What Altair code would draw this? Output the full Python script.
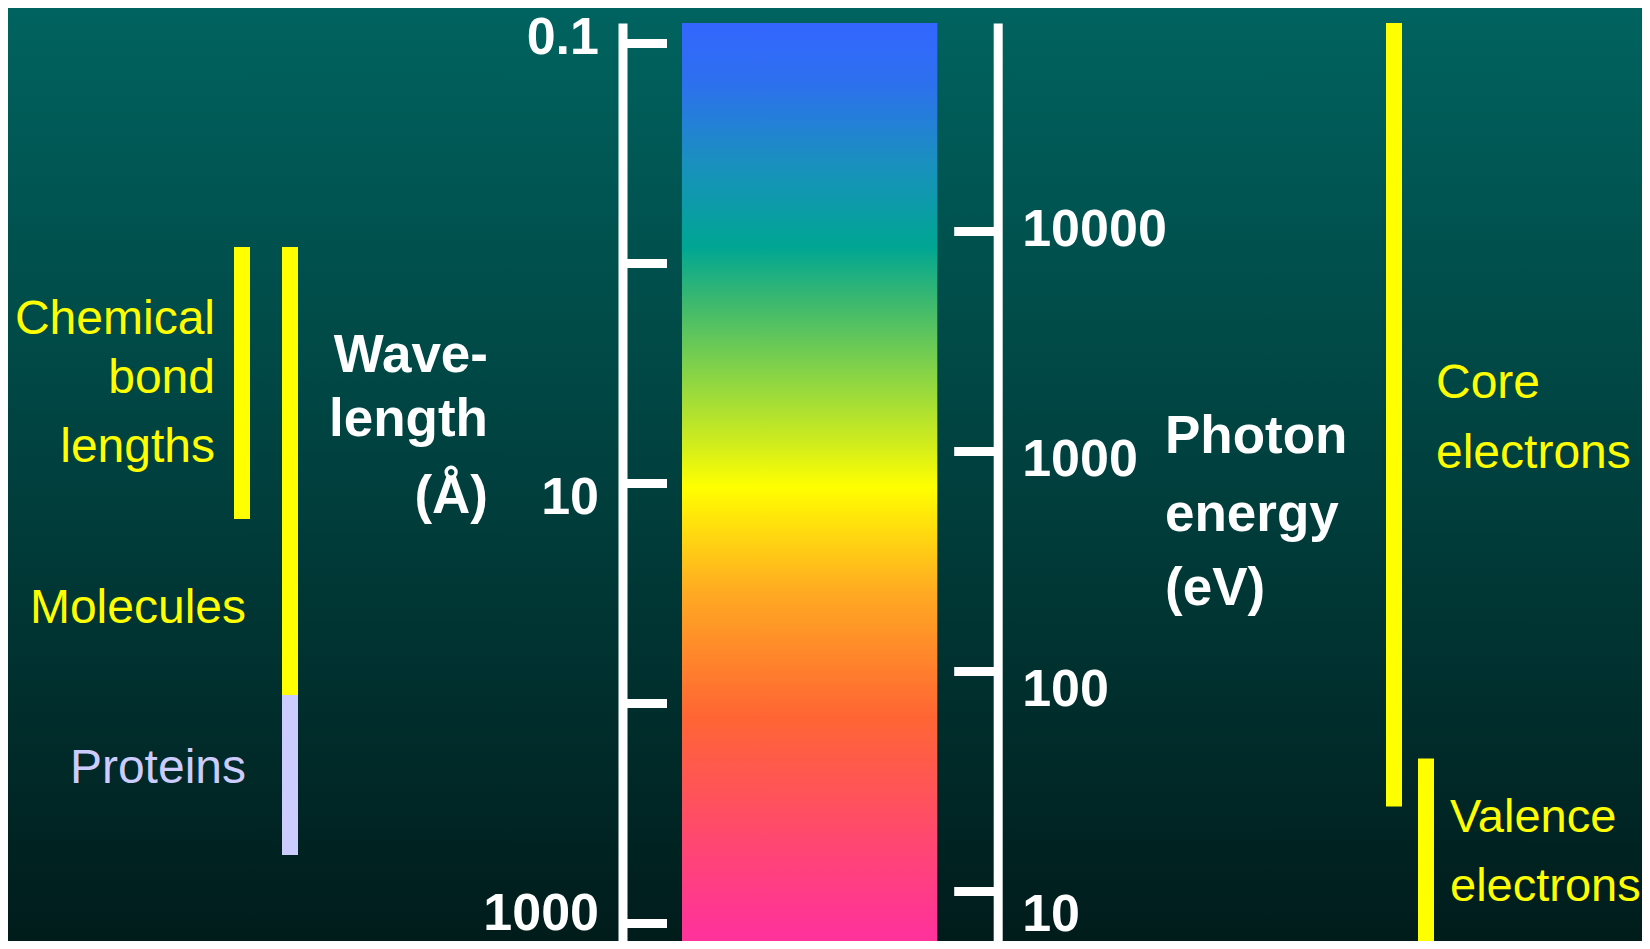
import math
import altair as alt
import pandas as pd

# ---------------- values ----------------
wavelength_ticks = [0.1, 1, 10, 100, 1000]            # Å
wavelength_tick_labels = ["0.1", "", "10", "", "1000"]
energy_ticks = [10000, 1000, 100, 10]                 # eV
energy_tick_labels = ["10000", "1000", "100", "10"]

wavelength_extent = [0.0809, 1201.0]    # Å, top -> bottom of the scale
energy_extent = [88200.0, 5.93]         # eV, top -> bottom of the scale

spectrum_wavelength = [0.081, 1250.0]   # colour bar span (Å)

size_names = ["Chemical bond lengths", "Molecules", "Proteins"]
size_from = [0.843, 0.843, 91.5]        # Å
size_to = [14.5, 91.5, 488.0]           # Å

electron_names = ["Core electrons", "Valence electrons"]
electron_from = [88200.0, 40.0]         # eV
electron_to = [24.2, 5.0]               # eV

# ---------------- layout / style ----------------
W, H, TOP = 1634, 933, 15
FONT = "Liberation Sans"
YELLOW, LAVENDER, WHITE = "#FFFF00", "#CCCCFF", "#FFFFFF"

size_style = {
    "Chemical bond lengths": (226, 242, YELLOW),
    "Molecules": (274, 290, YELLOW),
    "Proteins": (274, 290, LAVENDER),
}
electron_style = {
    "Core electrons": (1378, 1394, YELLOW),
    "Valence electrons": (1410, 1426, YELLOW),
}

wl_scale = alt.Scale(type="log", domain=wavelength_extent, range=[TOP, H], nice=False)
en_scale = alt.Scale(type="log", domain=energy_extent, range=[TOP, H], nice=False)


def label_expr(vals, labs):
    expr = "''"
    for v, l in reversed(list(zip(vals, labs))):
        expr = f"datum.value == {v} ? '{l}' : ({expr})"
    return expr


def offset_cond(vals, offs):
    return {
        "condition": [{"test": f"datum.value == {v}", "value": o} for v, o in zip(vals, offs)],
        "value": 0,
    }


axis_common = dict(
    title=None, grid=False, domain=True, domainColor=WHITE, domainWidth=9,
    domainCap="butt", ticks=True, tickColor=WHITE, tickWidth=9, tickSize=44,
    tickCap="butt", labels=True, labelColor=WHITE, labelFont=FONT,
    labelFontSize=52, labelFontWeight="bold", labelBaseline="middle",
    labelOverlap=False, labelFlush=False, labelLimit=400, zindex=2,
)

wl_axis = alt.Axis(
    orient="right", offset=614.5 - W, values=wavelength_ticks,
    labelExpr=label_expr(wavelength_ticks, wavelength_tick_labels),
    labelAlign="right", labelPadding=-68,
    labelOffset=offset_cond(wavelength_ticks, [-6, 0, 14, 0, -10]),
    **axis_common,
)
en_axis = alt.Axis(
    orient="left", offset=-989.7, values=energy_ticks,
    labelExpr=label_expr(energy_ticks, energy_tick_labels),
    labelAlign="left", labelPadding=-68,
    labelOffset=offset_cond(energy_ticks, [-2, 8, 18, 23]),
    **axis_common,
)

# background gradient
bg = alt.Chart(pd.DataFrame({"k": [0]})).mark_rect(
    color=alt.LinearGradient(
        gradient="linear",
        stops=[alt.GradientStop(offset=0, color="#00635F"),
               alt.GradientStop(offset=0.5, color="#00403E"),
               alt.GradientStop(offset=1, color="#001C1B")],
        x1=0, x2=0, y1=0, y2=1,
    )
).encode(x=alt.value(0), x2=alt.value(W), y=alt.value(0), y2=alt.value(H))

# spectrum colour bar
def ypix(lam):
    a, b = math.log10(wavelength_extent[0]), math.log10(wavelength_extent[1])
    return TOP + (math.log10(lam) - a) / (b - a) * (H - TOP)

bar_top = ypix(spectrum_wavelength[0])
bar_bot = ypix(spectrum_wavelength[1])
stop_ref_y = [23, 83, 160, 247, 300, 367, 440, 487, 592, 715, 785, 855, 931]
stop_colors = ["#3366FF", "#2D70EE", "#1A8FC0", "#00A693", "#3AB870", "#80D14A",
               "#CCEB1F", "#FFFF00", "#FFAA22", "#FF6633", "#FF5555", "#FF4477", "#FF3399"]
stops = [alt.GradientStop(offset=min(1, max(0, (yr - 8 - bar_top) / (bar_bot - bar_top))), color=c)
         for yr, c in zip(stop_ref_y, stop_colors)]

spec_df = pd.DataFrame({"top": [spectrum_wavelength[0]], "bottom": [spectrum_wavelength[1]]})
colorbar = alt.Chart(spec_df).mark_rect(
    color=alt.LinearGradient(gradient="linear", stops=stops, x1=0, x2=0, y1=0, y2=1)
).encode(
    x=alt.value(674), x2=alt.value(929.3),
    y=alt.Y("top:Q", scale=wl_scale, axis=wl_axis), y2="bottom:Q",
)

size_df = pd.DataFrame({"name": size_names, "start": size_from, "end": size_to})
size_bars = []
for name in size_names:
    x0, x1, col = size_style[name]
    size_bars.append(
        alt.Chart(size_df[size_df["name"] == name]).mark_rect(color=col).encode(
            x=alt.value(x0), x2=alt.value(x1),
            y=alt.Y("start:Q", scale=wl_scale, axis=None), y2="end:Q",
        )
    )

el_df = pd.DataFrame({"name": electron_names, "start": electron_from, "end": electron_to})
el_bars = []
for i, name in enumerate(electron_names):
    x0, x1, col = electron_style[name]
    el_bars.append(
        alt.Chart(el_df[el_df["name"] == name]).mark_rect(color=col).encode(
            x=alt.value(x0), x2=alt.value(x1),
            y=alt.Y("start:Q", scale=en_scale, axis=en_axis if i == 0 else None), y2="end:Q",
        )
    )


def text(txt, x, y, align, color, bold, size=None):
    return alt.Chart(pd.DataFrame({"t": [txt]})).mark_text(
        align=align, baseline="alphabetic", font=FONT,
        fontSize=size or (52 if bold else 48), fontWeight="bold" if bold else "normal", color=color,
    ).encode(x=alt.value(x), y=alt.value(y), text="t:N")


texts = [
    text("Chemical", 207, 326, "right", YELLOW, False),
    text("bond", 207, 385, "right", YELLOW, False),
    text("lengths", 207, 454, "right", YELLOW, False),
    text("Molecules", 238, 615, "right", YELLOW, False),
    text("Proteins", 238, 775, "right", LAVENDER, False),
    text("Wave-", 480, 364, "right", WHITE, True, 53),
    text("length", 480, 428, "right", WHITE, True, 53),
    text("(Å)", 480, 505, "right", WHITE, True, 53),
    text("Photon", 1157, 445, "left", WHITE, True, 53),
    text("energy", 1157, 523, "left", WHITE, True, 53),
    text("(eV)", 1157, 597, "left", WHITE, True, 53),
    text("Core", 1428, 390, "left", YELLOW, False),
    text("electrons", 1428, 460, "left", YELLOW, False),
    text("Valence", 1442, 824, "left", YELLOW, False, 47),
    text("electrons", 1442, 893, "left", YELLOW, False, 47),
]

chart = alt.layer(bg, colorbar, *size_bars, *el_bars, *texts).resolve_scale(
    y="independent"
).properties(
    width=W, height=H, padding=0, autosize=alt.AutoSizeParams(type="none")
).configure_view(stroke=None)

chart.save("out.html", embed_options={"renderer": "svg", "actions": False})
